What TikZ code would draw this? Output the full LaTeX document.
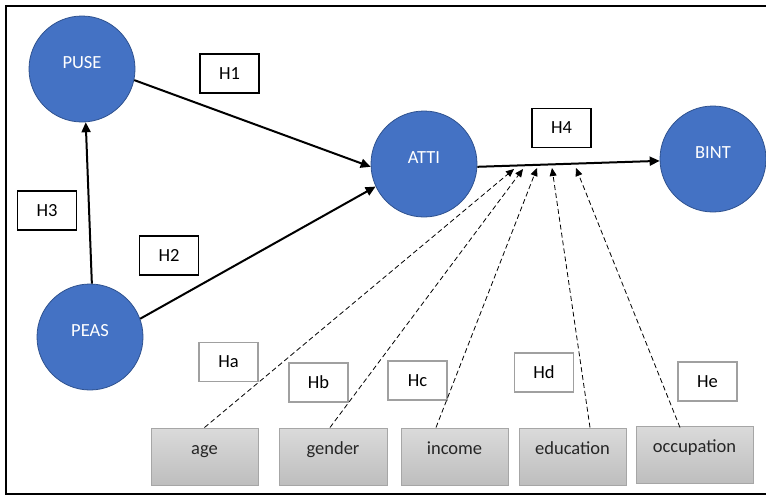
\documentclass[tikz,border=0pt]{standalone}
\usepackage{fontspec}
\setmainfont{Carlito}
\usetikzlibrary{arrows.meta}
\definecolor{nodeblue}{HTML}{4472C4}
\definecolor{nodeedge}{HTML}{2F528F}
\definecolor{boxtop}{HTML}{DADADA}
\definecolor{boxbot}{HTML}{BEBEBE}
\definecolor{boxedge}{HTML}{A6A6A6}
\definecolor{hedge}{HTML}{A0A0A0}
\definecolor{txtdark}{HTML}{262626}
\begin{document}
\begin{tikzpicture}[x=1pt,y=-1pt, font=\fontsize{18.5}{22}\selectfont,
 construct/.style={circle, fill=nodeblue, draw=nodeedge, line width=0.8pt, minimum size=106pt, inner sep=0pt},
 ctext/.style={text=white, text height=11.9pt, text depth=0pt, inner sep=0pt},
 hyp/.style={draw=black, line width=1.5pt, fill=white, minimum width=59pt, minimum height=39pt, inner sep=0pt, text height=11.9pt, text depth=0pt},
 mhyp/.style={hyp, draw=hedge},
 demo/.style={draw=boxedge, line width=1pt, top color=boxtop, bottom color=boxbot, minimum width=107pt, minimum height=57pt, inner sep=0pt},
 dtext/.style={text=txtdark, text height=11.9pt, text depth=0pt, inner sep=0pt},
 mainarrow/.style={line width=2pt, -{Triangle[length=10pt,width=9pt]}},
 modarrow/.style={line width=0.8pt, dash pattern=on 5pt off 3pt, -{Triangle[length=8pt,width=7pt]}},
 frame/.style={line width=2.5pt}
]
\useasboundingbox (0,0) rectangle (766,496);
% frame
\draw[frame] (766,6) -- (6,6) -- (6,494) -- (766,494);

% constructs
\node[construct, label={[ctext, yshift=6.5pt]center:PUSE}] (puse) at (82,69) {};
\node[construct, label={[ctext, yshift=6pt]center:ATTI}] (atti) at (424,164) {};
\node[construct, label={[ctext, yshift=6pt]center:BINT}] (bint) at (713,159) {};
\node[construct, label={[ctext, yshift=6.5pt]center:PEAS}] (peas) at (90,337) {};

% hypothesis boxes
\node[hyp] (h1) at (229.5,73.5) {H1};
\node[hyp] (h3) at (47,210.5) {H3};
\node[hyp] (h2) at (169,255.5) {H2};
\node[hyp] (h4) at (561.5,128) {H4};
\node[mhyp] (ha) at (228.5,362) {Ha};
\node[mhyp] (hb) at (318.5,382.5) {Hb};
\node[mhyp] (hc) at (417.5,380.5) {Hc};
\node[mhyp] (hd) at (544,372.5) {Hd};
\node[mhyp] (he) at (707.5,381.5) {He};

% demographic boxes
\node[demo, label={[dtext, yshift=8pt]center:age}] (age) at (204.5,456.5) {};
\node[demo, minimum width=108pt, label={[dtext, yshift=8pt]center:gender}] (gender) at (333,456.5) {};
\node[demo, label={[dtext, yshift=8pt]center:income}] (income) at (454.5,456.5) {};
\node[demo, label={[dtext, yshift=8pt]center:education}] (education) at (572.5,456.5) {};
\node[demo, minimum width=117pt, label={[dtext, yshift=8pt]center:occupation}] (occupation) at (694.5,454.5) {};

% main paths
\draw[mainarrow] (puse.-12) -- (atti.183);
\draw[mainarrow] (peas.20) -- (atti.205);
\draw[mainarrow] (peas.88) -- (puse.274);
\draw[mainarrow] (atti.-3.5) -- (bint.182);

% moderator targets
\coordinate (ta) at (514,169);
\coordinate (tb) at (523,169);
\coordinate (tc) at (537,168);
\coordinate (td) at (552,168);
\coordinate (te) at (576,168);

\draw[modarrow] (age.north) -- (ta);
\draw[modarrow] ([xshift=-3pt]gender.north) -- (tb);
\draw[modarrow] ([xshift=-18.5pt]income.north) -- (tc);
\draw[modarrow] ([xshift=17.5pt]education.north) -- (td);
\draw[modarrow] ([xshift=-14.5pt,yshift=-2pt]occupation.north) -- (te);
\end{tikzpicture}
\end{document}
